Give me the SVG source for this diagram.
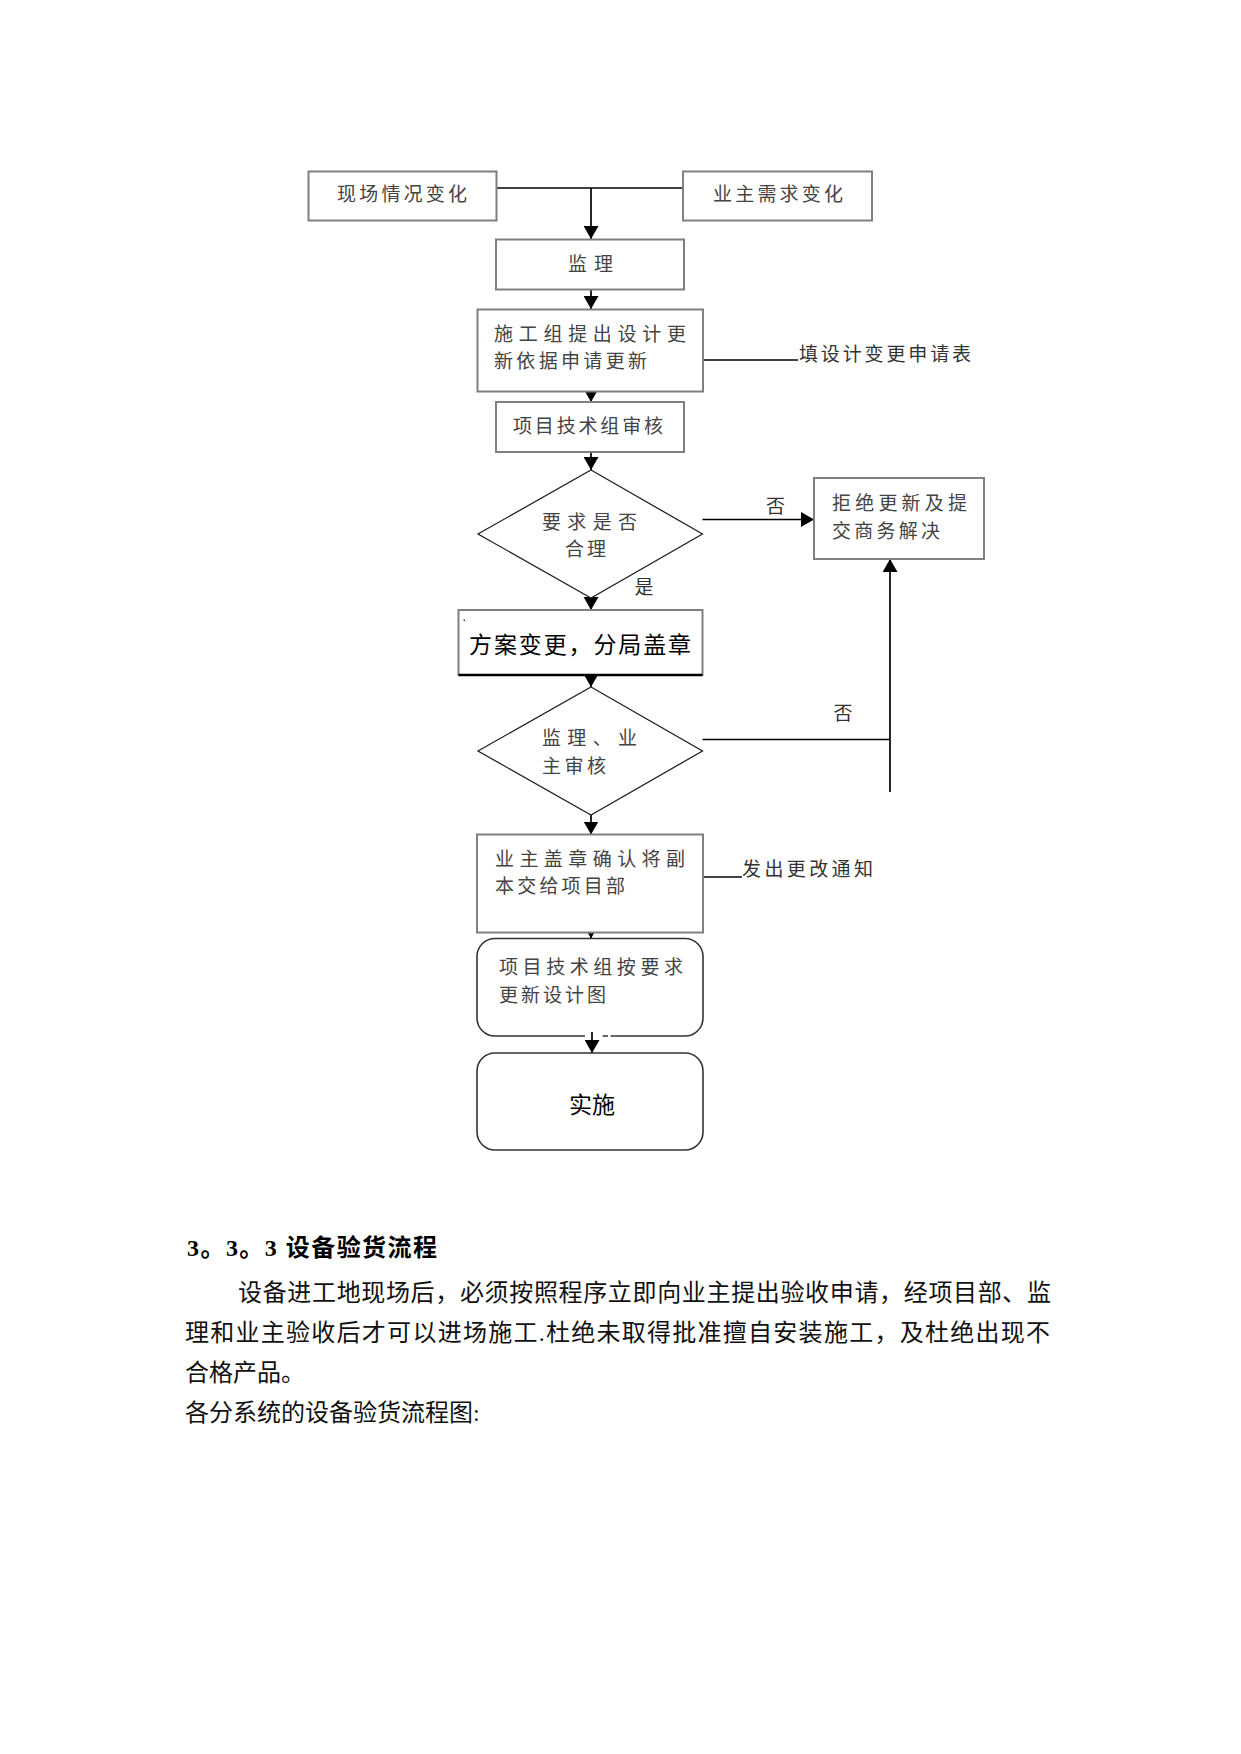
<svg xmlns="http://www.w3.org/2000/svg" width="1241" height="1754" viewBox="0 0 1241 1754">
<style>
.box{fill:#fff;stroke:#808080;stroke-width:2}
.dia{fill:#fff;stroke:#222;stroke-width:1.3}
.rbox{fill:none;stroke:#333;stroke-width:1.6}
.ln{fill:none;stroke:#000;stroke-width:1.7}
.t{font-family:"Noto Sans CJK SC","Noto Sans CJK JP",sans-serif;font-size:19px;fill:#444}
.tb{font-family:"Noto Sans CJK SC","Noto Sans CJK JP",sans-serif;font-size:23px;fill:#000}
.lab{font-family:"Noto Sans CJK SC","Noto Sans CJK JP",sans-serif;font-size:19px;fill:#333}
.p{font-family:"Liberation Serif","Noto Sans CJK SC",serif;font-size:24px;fill:#111}
.h{font-family:"Liberation Serif","Noto Sans CJK SC",serif;font-size:24px;font-weight:bold;fill:#000}
</style>
<defs>
<marker id="ar" markerUnits="userSpaceOnUse" markerWidth="14" markerHeight="15" refX="13" refY="7.5" orient="auto">
<path d="M0,0 L13,7.5 L0,15 Z" fill="#000"/>
</marker>
</defs>
<rect width="1241" height="1754" fill="#fff"/>

<g id="connectors">
<path class="ln" d="M496,188 H683"/>
<path class="ln" d="M591,188 V239" marker-end="url(#ar)"/>
<path class="ln" d="M591,289.5 V309" marker-end="url(#ar)"/>
<path class="ln" d="M591,391.5 V402" marker-end="url(#ar)"/>
<path class="ln" d="M591,452 V470" marker-end="url(#ar)"/>
<path class="ln" d="M591,572 V610" marker-end="url(#ar)"/>
<path class="ln" d="M591,675 V687" marker-end="url(#ar)"/>
<path class="ln" d="M591,788 V834.5" marker-end="url(#ar)"/>
<path class="ln" d="M591,913 V938.5" marker-end="url(#ar)"/>
<path class="ln" d="M592,1032 V1053" marker-end="url(#ar)"/>
<path class="ln" d="M702.5,519.5 H814" marker-end="url(#ar)"/>
<path class="ln" d="M702.5,739.5 H890"/>
<path class="ln" d="M890,792 V559" marker-end="url(#ar)"/>
<path class="ln" d="M703,360 H798"/>
<path class="ln" d="M703,877 H742"/>
</g>

<g id="n1"><rect class="box" x="308.5" y="171.5" width="188" height="49"/>
<text class="t" x="337" y="201" textLength="130" lengthAdjust="spacing" font-size="20">现场情况变化</text></g>
<g id="n2"><rect class="box" x="683" y="171.5" width="189" height="49"/>
<text class="t" x="713" y="201" textLength="130" lengthAdjust="spacing" font-size="20">业主需求变化</text></g>
<g id="n3"><rect class="box" x="496" y="239.5" width="188" height="50"/>
<text class="t" x="568" y="271" textLength="45" lengthAdjust="spacing" font-size="20">监理</text></g>
<g id="n4"><rect class="box" x="477.5" y="309.5" width="225.5" height="82"/>
<text class="t" x="494" y="340.5" textLength="192" lengthAdjust="spacing">施工组提出设计更</text>
<text class="t" x="494" y="368" textLength="153" lengthAdjust="spacing">新依据申请更新</text></g>
<g id="n5"><text class="lab" x="799" y="361" textLength="172" lengthAdjust="spacing">填设计变更申请表</text></g>
<g id="n6"><rect class="box" x="496" y="402" width="188" height="50"/>
<text class="t" x="513" y="432.5" textLength="150" lengthAdjust="spacing">项目技术组审核</text></g>
<g id="n7"><polygon class="dia" points="591,470 702.5,534 591,598 478,534"/>
<text class="t" x="542" y="528.5" textLength="95" lengthAdjust="spacing">要求是否</text>
<text class="t" x="565" y="555.5" textLength="41" lengthAdjust="spacing">合理</text></g>
<g id="n8"><rect class="box" x="814" y="478" width="170" height="81"/>
<text class="t" x="832" y="509.5" textLength="135" lengthAdjust="spacing">拒绝更新及提</text>
<text class="t" x="832" y="537.5" textLength="108" lengthAdjust="spacing">交商务解决</text></g>
<g id="lbl1"><text class="lab" x="775.5" y="513" text-anchor="middle">否</text></g>
<g id="lbl2"><text class="lab" x="644" y="594" text-anchor="middle">是</text></g>
<g id="n9"><rect class="box" x="458.5" y="610" width="244" height="65"/>
<path d="M458.5,675 H702.5" stroke="#000" stroke-width="2.4"/>
<rect x="463.5" y="619.5" width="1.5" height="1.5" fill="#333"/>
<text class="tb" x="469" y="652.5" textLength="222" lengthAdjust="spacing">方案变更，分局盖章</text></g>
<g id="n10"><polygon class="dia" points="591,687 702.5,751 591,815 478,751"/>
<text class="t" x="542" y="745" textLength="95" lengthAdjust="spacing">监理、业</text>
<text class="t" x="542" y="772.5" textLength="64" lengthAdjust="spacing">主审核</text></g>
<g id="lbl3"><text class="lab" x="843" y="720" text-anchor="middle">否</text></g>
<g id="n11"><rect class="box" x="477" y="834.5" width="226" height="98"/>
<text class="t" x="495" y="865.5" textLength="190" lengthAdjust="spacing">业主盖章确认将副</text>
<text class="t" x="495" y="892.5" textLength="130" lengthAdjust="spacing">本交给项目部</text></g>
<g id="n12"><text class="lab" x="742" y="876" textLength="131" lengthAdjust="spacing">发出更改通知</text></g>
<g id="n13"><path class="rbox" d="M585,1036 H495 A18,18 0 0 1 477,1018 V956.5 A18,18 0 0 1 495,938.5 H685 A18,18 0 0 1 703,956.5 V1018 A18,18 0 0 1 685,1036 H610.5 M602.7,1036 H608"/>
<text class="t" x="499" y="974" textLength="184" lengthAdjust="spacing">项目技术组按要求</text>
<text class="t" x="499" y="1001.5" textLength="107" lengthAdjust="spacing">更新设计图</text></g>
<g id="n14"><rect class="rbox" x="477" y="1053" width="226" height="97" rx="18" ry="18"/>
<text class="tb" x="592" y="1112.5" text-anchor="middle" font-size="22">实施</text></g>

<g id="body">
<text class="h" x="187" y="1256" textLength="250" lengthAdjust="spacing">3。3。3 设备验货流程</text>
<text class="p" x="238" y="1300.5" textLength="813" lengthAdjust="spacing">设备进工地现场后，必须按照程序立即向业主提出验收申请，经项目部、监</text>
<text class="p" x="185" y="1340.5" textLength="865" lengthAdjust="spacing">理和业主验收后才可以进场施工.杜绝未取得批准擅自安装施工，及杜绝出现不</text>
<text class="p" x="185" y="1380.5">合格产品。</text>
<text class="p" x="185" y="1421">各分系统的设备验货流程图:</text>
</g>
</svg>
